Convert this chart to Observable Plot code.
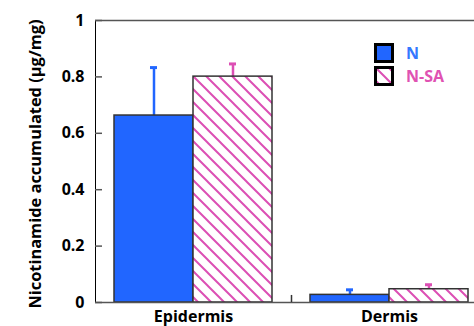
<!DOCTYPE html>
<html>
<head>
<meta charset="utf-8">
<script src="https://cdn.jsdelivr.net/npm/d3@7"></script>
<script src="https://cdn.jsdelivr.net/npm/@observablehq/plot@0.6"></script>
<style>
  html, body { margin: 0; padding: 0; background: #fff; overflow: hidden; }
  #wrap { position: relative; width: 474px; height: 326px; overflow: hidden; font-family: "Open Sans", sans-serif; font-weight: 700; }
  #wrap > svg { max-width: none !important; width: 487px; height: 326px; }
  #ylabel { position: absolute; left: 34px; top: 164px; transform: translate(-50%, -50%) rotate(-90deg); white-space: nowrap; font-size: 16.4px; color: #000; }
  .leg { position: absolute; left: 374px; display: flex; align-items: center; font-size: 16px; }
  .leg svg { display: block; margin-right: 12px; }
</style>
</head>
<body>
<div id="wrap"></div>
<script>
const groups = ["Epidermis", "Dermis"];
const series = ["N", "N-SA"];
const meanN = [0.663, 0.027];
const errN = [0.170, 0.018];
const meanNSA = [0.801, 0.047];
const errNSA = [0.045, 0.016];
const yTicks = [0, 0.2, 0.4, 0.6, 0.8, 1];
const yTickLabels = ["0", "0.2", "0.4", "0.6", "0.8", "1"];
const yLabel = "Nicotinamide accumulated (µg/mg)";
const seriesColors = ["#2166ff", "#dc4fb4"];
const textColors = ["#3478ff", "#e052b2"];

const rows = groups.flatMap((g, i) => [
  {group: g, series: series[0], value: meanN[i], err: errN[i]},
  {group: g, series: series[1], value: meanNSA[i], err: errNSA[i]}
]);
const colorOf = s => seriesColors[series.indexOf(s)];

const W = 487, ML = 95, TICK = 7;
const facetWidth = (W - ML) / groups.length;

const plot = Plot.plot({
  width: W,
  height: 326,
  marginLeft: ML,
  marginRight: 0,
  marginTop: 20,
  marginBottom: 24,
  style: {fontFamily: "'Open Sans', sans-serif", fontSize: "16px", fontWeight: 700, color: "#000", background: "transparent", overflow: "visible", maxWidth: "none"},
  facet: {marginTop: 0, marginBottom: 0, marginLeft: 0, marginRight: 0},
  fx: {domain: groups, padding: 0, axis: "bottom", tickSize: 0, tickPadding: 8, label: null},
  x: {domain: series, paddingInner: 0, paddingOuter: 0.2405, axis: null},
  y: {domain: [0, 1], ticks: yTicks, tickFormat: d => yTickLabels[yTicks.indexOf(d)], tickSize: 0, tickPadding: 11, label: null, line: true},
  color: {domain: series, range: ["#2166ff", "url(#hatch)"]},
  marks: [
    Plot.ruleY([1], {stroke: "#555", strokeWidth: 1.5}),
    Plot.tickY(yTicks, {fx: () => groups[0], y: d => d, insetRight: facetWidth - TICK, stroke: "#555", strokeWidth: 1.5}),
    Plot.ruleX(rows, {fx: "group", x: "series", y1: "value", y2: d => d.value + d.err, stroke: d => colorOf(d.series), strokeWidth: 2.5}),
    Plot.tickY(rows, {fx: "group", x: "series", y: d => d.value + d.err, stroke: d => colorOf(d.series), strokeWidth: 3, insetLeft: 36, insetRight: 36}),
    Plot.barY(rows, {fx: "group", x: "series", y: "value", fill: "series", stroke: "#333", strokeWidth: 1.5}),
    Plot.ruleY([0], {stroke: "#555", strokeWidth: 1.5}),
    Plot.ruleX([groups[1]], {fx: d => d, x: () => series[0], y1: 0, y2: 0.025, dx: -58.5, stroke: "#333", strokeWidth: 1.5})
  ]
});

const svg = plot.tagName.toLowerCase() === "svg" ? plot : plot.querySelector("svg");
svg.style.maxWidth = "none";
d3.select(svg).insert("defs", ":first-child").html(
  `<pattern id="hatch" patternUnits="userSpaceOnUse" width="13" height="13">
     <rect width="13" height="13" fill="#fff"/>
     <path d="M0,0L13,13M-2,11L2,15M11,-2L15,2" stroke="${seriesColors[1]}" stroke-width="2"/>
   </pattern>`);

const wrap = document.getElementById("wrap");
wrap.appendChild(plot);

const yl = document.createElement("div");
yl.id = "ylabel";
yl.textContent = yLabel;
wrap.appendChild(yl);

const legTops = [42, 65];
series.forEach((s, i) => {
  const row = document.createElement("div");
  row.className = "leg";
  row.style.top = legTops[i] + "px";
  row.style.color = textColors[i];
  const fill = i === 0 ? seriesColors[0] : "url(#hatchL)";
  row.innerHTML = `<svg width="20" height="20">
      <defs><pattern id="hatchL" patternUnits="userSpaceOnUse" width="13" height="13">
        <rect width="13" height="13" fill="#fff"/>
        <path d="M0,0L13,13M-2,11L2,15M11,-2L15,2" stroke="${seriesColors[1]}" stroke-width="2"/>
      </pattern></defs>
      <rect x="1.5" y="1.5" width="17" height="17" fill="${fill}" stroke="#000" stroke-width="3"/>
    </svg><span>${s}</span>`;
  wrap.appendChild(row);
});
</script>
</body>
</html>
